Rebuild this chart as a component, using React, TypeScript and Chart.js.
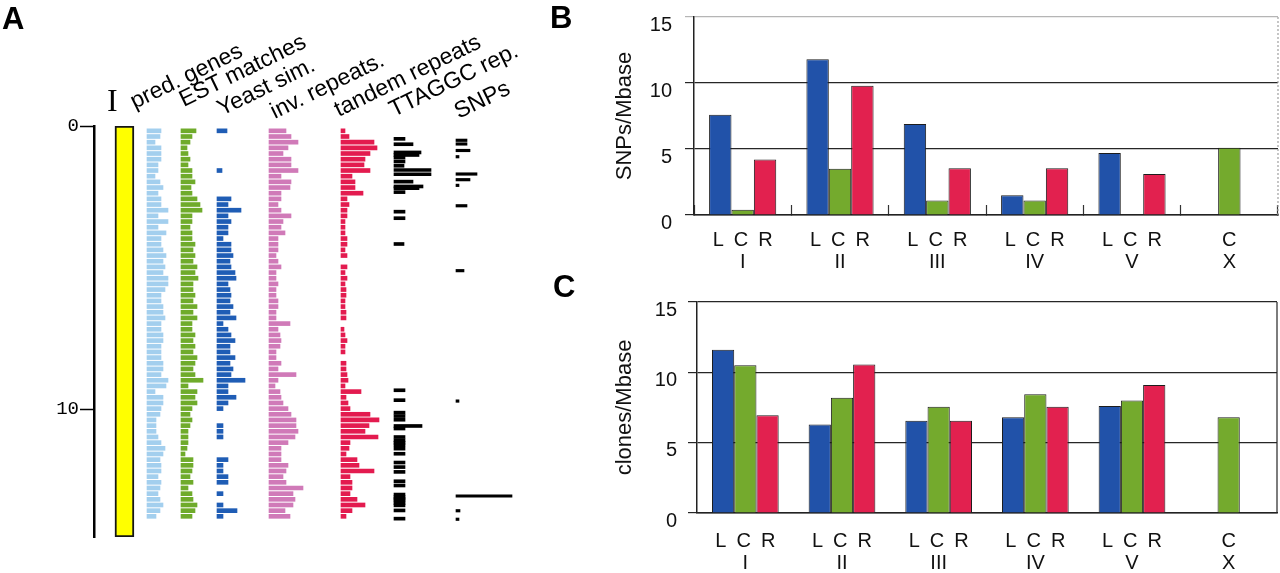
import React, { useEffect, useRef } from 'react';
import { Chart, registerables } from 'chart.js';

Chart.register(...registerables);

const FONT = '"Liberation Sans", Arial, Helvetica, sans-serif';

// ---------------- Panel A data ----------------
const CHROMOSOME = 'I';
const CHROM_LENGTH_MB = 14.5;
const AXIS_TICKS_MB = [0, 10];
const ROW_STEP_MB = 0.2;
const TRACK_NAMES = ['pred. genes', 'EST matches', 'Yeast sim.', 'inv. repeats.', 'tandem repeats', 'TTAGGC rep.', 'SNPs'];

// feature density per 0.2 Mb row (bar length)
const predGenes = [
  14, 13, 8, 14, 14, 14, 11, 11, 8, 13,
  16, 11, 14, 14, 21, 11, 21, 11, 19, 14,
  14, 16, 19, 16, 18, 16, 21, 21, 18, 14,
  14, 16, 16, 18, 14, 14, 16, 16, 14, 14,
  14, 16, 16, 14, 21, 19, 8, 16, 16, 14,
  13, 9, 9, 9, 11, 14, 18, 16, 13, 14,
  14, 11, 14, 13, 11, 13, 16, 13, 9,
];
const estMatches = [
  15, 11, 9, 6, 7, 9, 7, 11, 11, 14,
  10, 11, 16, 19, 21, 11, 11, 9, 11, 11,
  14, 12, 14, 12, 16, 14, 17, 12, 12, 14,
  12, 16, 12, 16, 11, 11, 14, 12, 14, 12,
  16, 14, 12, 14, 22, 7, 16, 14, 16, 11,
  9, 11, 9, 7, 7, 7, 6, 4, 12, 12,
  11, 9, 12, 7, 11, 12, 16, 14, 11,
];
const yeastSim = [
  10, 0, 0, 0, 0, 0, 0, 5, 0, 0,
  0, 0, 14, 11, 24, 11, 14, 11, 11, 6,
  14, 14, 16, 13, 14, 18, 19, 11, 13, 14,
  13, 16, 13, 19, 6, 11, 14, 18, 13, 13,
  18, 13, 16, 14, 28, 11, 11, 19, 11, 6,
  0, 0, 6, 6, 6, 0, 0, 0, 11, 6,
  6, 11, 11, 0, 6, 0, 6, 20, 6,
];
const invRepeats = [
  17, 22, 29, 19, 14, 22, 22, 29, 12, 22,
  21, 12, 12, 9, 12, 22, 14, 12, 16, 9,
  9, 9, 7, 9, 12, 7, 7, 9, 7, 7,
  9, 9, 7, 7, 21, 9, 11, 12, 11, 7,
  7, 12, 9, 27, 9, 6, 11, 12, 14, 19,
  22, 27, 27, 29, 26, 19, 12, 12, 12, 19,
  17, 14, 17, 34, 24, 26, 24, 16, 21,
];
const tandemRepeats = [
  4, 8, 33, 36, 29, 24, 23, 29, 11, 14,
  14, 22, 6, 8, 6, 6, 4, 4, 4, 6,
  6, 4, 6, 0, 6, 4, 6, 4, 5, 5,
  4, 4, 5, 5, 0, 3, 4, 6, 4, 4,
  0, 5, 5, 6, 7, 4, 20, 5, 7, 9,
  29, 38, 28, 24, 37, 9, 8, 5, 16, 18,
  33, 9, 11, 11, 9, 16, 24, 11, 5,
];
// [position Mb, length]
const ttaggcRepeats: [number, number][] = [
  [0.4, 11], [0.59, 19], [0.88, 27], [0.97, 25], [1.06, 11], [1.2, 11], [1.35, 10],
  [1.5, 37], [1.65, 37], [1.91, 19], [2.08, 29], [2.14, 25], [2.28, 11], [2.97, 11],
  [3.2, 11], [4.11, 10], [9.27, 11], [9.62, 11], [10.06, 11], [10.18, 11], [10.31, 11],
  [10.53, 28], [10.62, 11], [10.92, 11], [11.04, 11], [11.12, 11], [11.21, 11], [11.33, 11],
  [11.51, 11], [11.82, 11], [11.98, 11], [12.15, 11], [12.48, 11], [12.63, 11], [12.95, 11],
  [13.04, 11], [13.1, 11], [13.16, 11], [13.25, 11], [13.33, 11], [13.51, 11], [13.8, 11],
];
const snps: [number, number][] = [
  [0.46, 11], [0.59, 11], [0.82, 14], [1.04, 3], [1.65, 21], [1.85, 14], [2.05, 3],
  [2.77, 11], [5.06, 8], [9.66, 3], [13.01, 56], [13.53, 4], [13.83, 3],
];

// ---------------- Panels B / C data ----------------
const GROUP_LABELS = [
  ['L\u2002C\u2002R', 'I'],
  ['L\u2002C\u2002R', 'II'],
  ['L\u2002C\u2002R', 'III'],
  ['L\u2002C\u2002R', 'IV'],
  ['L\u2002C\u2002R', 'V'],
  ['C', 'X'],
];
const snpLeft = [7.6, 11.8, 6.9, 1.5, 4.7, null];
const snpCenter = [0.4, 3.5, 1.1, 1.1, null, 5.1];
const snpRight = [4.2, 9.8, 3.55, 3.55, 3.1, null];
const cloneLeft = [11.6, 6.3, 6.55, 6.8, 7.6, null];
const cloneCenter = [10.5, 8.2, 7.55, 8.45, 8.0, 6.8];
const cloneRight = [6.95, 10.55, 6.55, 7.55, 9.1, null];
const Y_TICK_STEP = 5;
const Y_MAX = 15;

// ---------------- styling / layout ----------------
const BLUE = '#2152a9';
const GREEN = '#74aa2d';
const RED = '#e2214f';
const TRACK_COLORS = ['#a3cfee', '#6fab2b', '#1f5db5', '#d07ab8', '#e31b4f', '#000000', '#000000'];
const TRACK_START = [53, 87, 123, 175, 247, 300, 362];
const TRACK_THICKNESS = [4, 4, 4, 4, 4, 3, 2.5];
const LABEL_ANCHORS: [number, number][] = [[135, 109], [184, 107], [222, 116], [275, 119], [339, 117], [394, 117], [459, 119]];
const LABEL_ANGLE = -26;
const LABEL_SIZE = 23;

function rowBars(lengths: number[], start: number) {
  return lengths
    .map((len, i) => (len > 0 ? { x: [start, start + len], y: (i + 0.5) * ROW_STEP_MB } : null))
    .filter(Boolean) as any[];
}
function sparseBars(list: [number, number][], start: number) {
  return list.map(([mb, len]) => ({ x: [start, start + len], y: mb }));
}

function configA(): any {
  const trackData = [
    rowBars(predGenes, TRACK_START[0]),
    rowBars(estMatches, TRACK_START[1]),
    rowBars(yeastSim, TRACK_START[2]),
    rowBars(invRepeats, TRACK_START[3]),
    rowBars(tandemRepeats, TRACK_START[4]),
    sparseBars(ttaggcRepeats, TRACK_START[5]),
    sparseBars(snps, TRACK_START[6]),
  ];
  const datasets: any[] = trackData.map((data, i) => ({
    label: TRACK_NAMES[i],
    data,
    xAxisID: 'x',
    yAxisID: 'y',
    stack: 'tracks',
    backgroundColor: TRACK_COLORS[i],
    borderWidth: 0,
    barThickness: TRACK_THICKNESS[i],
  }));
  datasets.unshift({
    label: 'chromosome ' + CHROMOSOME,
    indexAxis: 'x',
    xAxisID: 'x2',
    yAxisID: 'y2',
    stack: 'chrom',
    data: [{ x: 18.5, y: [0, CHROM_LENGTH_MB] }],
    backgroundColor: '#ffff00',
    borderColor: '#151515',
    borderWidth: 2,
    borderSkipped: false,
    barThickness: 19,
  });
  return {
    type: 'bar',
    data: { datasets },
    options: {
      animation: false,
      responsive: false,
      indexAxis: 'y',
      events: [],
      layout: { padding: { top: 126, bottom: 36, left: 0, right: 0 } },
      plugins: { legend: { display: false }, tooltip: { enabled: false } },
      scales: {
        x: { type: 'linear', axis: 'x', min: 0, max: 466, display: false, stacked: false },
        x2: { type: 'linear', axis: 'x', min: 0, max: 466, display: false, stacked: false },
        y2: { type: 'linear', axis: 'y', min: 0, max: CHROM_LENGTH_MB, reverse: true, display: false, stacked: false, offset: false },
        y: {
          type: 'linear',
          axis: 'y',
          position: 'left',
          min: 0,
          max: CHROM_LENGTH_MB,
          reverse: true,
          offset: false,
          afterBuildTicks: (s: any) => {
            s.ticks = AXIS_TICKS_MB.map((value) => ({ value }));
          },
          afterFit: (s: any) => {
            s.width = 94;
            s.paddingTop = 0;
            s.paddingBottom = 0;
          },
          grid: { display: true, drawOnChartArea: false, drawTicks: true, tickLength: 14, tickColor: '#000', tickWidth: 1.5, offset: false },
          border: { display: true, color: '#000', width: 2.5 },
          ticks: {
            autoSkip: false,
            padding: 1,
            color: '#000',
            font: { family: '"Liberation Mono", "DejaVu Sans Mono", monospace', size: 19 },
            callback: (v: any) => String(v),
          },
        },
      },
    },
  };
}

function rightBorder(color: string, dash: number[]) {
  return {
    id: 'rightBorder',
    afterDraw(chart: any) {
      const { ctx, chartArea } = chart;
      ctx.save();
      ctx.strokeStyle = color;
      ctx.lineWidth = 1.2;
      ctx.setLineDash(dash);
      ctx.beginPath();
      ctx.moveTo(chartArea.right, chartArea.top);
      ctx.lineTo(chartArea.right, chartArea.bottom);
      ctx.stroke();
      ctx.restore();
    },
  };
}

function configBars(p: {
  values: (number | null)[][];
  title: string;
  axisWidth: number;
  axisHeight: number;
  padTop: number;
  padRight: number;
  labelPad: number;
  innerTicks: boolean;
  topColor: string;
  frameColor: string;
  frameDash: number[];
  yTickPad: number;
}): any {
  const colors = [BLUE, GREEN, RED];
  const names = ['L', 'C', 'R'];
  return {
    type: 'bar',
    data: {
      labels: GROUP_LABELS,
      datasets: p.values.map((vals, i) => ({
        label: names[i],
        data: vals,
        backgroundColor: colors[i],
        borderColor: '#1d1d1d',
        borderWidth: 1,
        categoryPercentage: 0.69,
        barPercentage: 1,
      })),
    },
    plugins: [rightBorder(p.frameColor, p.frameDash)],
    options: {
      animation: false,
      responsive: false,
      events: [],
      layout: { padding: { top: p.padTop, right: p.padRight, left: 0, bottom: 0 } },
      plugins: { legend: { display: false }, tooltip: { enabled: false } },
      scales: {
        x: {
          grid: {
            display: p.innerTicks,
            drawOnChartArea: false,
            drawTicks: p.innerTicks,
            tickLength: -10,
            tickColor: '#333',
            tickWidth: 1.2,
            offset: true,
          },
          border: { display: true, color: '#222', width: 1.5 },
          ticks: {
            autoSkip: false,
            maxRotation: 0,
            minRotation: 0,
            padding: p.labelPad,
            color: '#111',
            font: { family: FONT, size: 20, lineHeight: 1.12 },
          },
          afterFit: (s: any) => {
            s.height = p.axisHeight;
          },
        },
        y: {
          min: 0,
          max: Y_MAX,
          ticks: {
            stepSize: Y_TICK_STEP,
            padding: p.yTickPad,
            labelOffset: 8,
            color: '#111',
            font: { family: FONT, size: 20 },
          },
          grid: {
            color: (c: any) => (c.tick && c.tick.value === Y_MAX ? p.topColor : '#262626'),
            tickColor: (c: any) => (c.tick && c.tick.value === Y_MAX ? p.topColor : '#262626'),
            lineWidth: 1.2,
            tickLength: 9,
          },
          border: { display: true, color: '#222', width: 1.5 },
          title: {
            display: true,
            text: p.title,
            color: '#111',
            font: { family: FONT, size: 22 },
            padding: { top: 52, bottom: 0 },
          },
          afterFit: (s: any) => {
            s.width = p.axisWidth;
            s.paddingTop = 0;
            s.paddingBottom = 0;
          },
        },
      },
    },
  };
}

const panelLetter = (t: string, left: number, top: number) => (
  <div
    style={{
      position: 'absolute',
      left,
      top,
      fontFamily: FONT,
      fontWeight: 700,
      fontSize: 31,
      lineHeight: '31px',
      color: '#000',
    }}
  >
    {t}
  </div>
);

export default function App() {
  const aRef = useRef<HTMLCanvasElement>(null);
  const bRef = useRef<HTMLCanvasElement>(null);
  const cRef = useRef<HTMLCanvasElement>(null);

  useEffect(() => {
    const charts: Chart[] = [];
    charts.push(new Chart(aRef.current as HTMLCanvasElement, configA()));
    charts.push(
      new Chart(
        bRef.current as HTMLCanvasElement,
        configBars({
          values: [snpLeft, snpCenter, snpRight],
          title: 'SNPs/Mbase',
          axisWidth: 134,
          axisHeight: 65,
          padTop: 17,
          padRight: 2,
          labelPad: 24,
          innerTicks: true,
          topColor: '#b5b5b5',
          frameColor: '#a0a0a0',
          frameDash: [2, 2],
          yTickPad: 13,
        })
      )
    );
    charts.push(
      new Chart(
        cRef.current as HTMLCanvasElement,
        configBars({
          values: [cloneLeft, cloneCenter, cloneRight],
          title: 'clones/Mbase',
          axisWidth: 137,
          axisHeight: 60,
          padTop: 22,
          padRight: 3,
          labelPad: 17,
          innerTicks: false,
          topColor: '#262626',
          frameColor: '#262626',
          frameDash: [],
          yTickPad: 11,
        })
      )
    );
    return () => charts.forEach((c) => c.destroy());
  }, []);

  const baseline = LABEL_SIZE * 0.8465;

  return (
    <div
      style={{
        position: 'fixed',
        left: 0,
        top: 0,
        width: 1280,
        height: 573,
        background: '#fff',
        overflow: 'hidden',
      }}
    >
      <canvas ref={aRef} width={560} height={573} style={{ position: 'absolute', left: 0, top: 0 }} />
      <canvas ref={bRef} width={720} height={280} style={{ position: 'absolute', left: 560, top: 0 }} />
      <canvas ref={cRef} width={720} height={293} style={{ position: 'absolute', left: 560, top: 280 }} />
      {panelLetter('A', 2, 3)}
      {panelLetter('B', 550, 2)}
      {panelLetter('C', 553, 271)}
      <div
        style={{
          position: 'absolute',
          left: 107,
          top: 84,
          fontFamily: '"Liberation Serif", "Times New Roman", serif',
          fontSize: 32,
          lineHeight: '32px',
          color: '#000',
        }}
      >
        {CHROMOSOME}
      </div>
      {TRACK_NAMES.map((t, i) => (
        <div
          key={t}
          style={{
            position: 'absolute',
            left: LABEL_ANCHORS[i][0],
            top: LABEL_ANCHORS[i][1] - baseline,
            fontFamily: FONT,
            fontSize: LABEL_SIZE,
            lineHeight: `${LABEL_SIZE}px`,
            whiteSpace: 'nowrap',
            transformOrigin: `0 ${baseline}px`,
            transform: `rotate(${LABEL_ANGLE}deg)`,
            color: '#000',
          }}
        >
          {t}
        </div>
      ))}
    </div>
  );
}
